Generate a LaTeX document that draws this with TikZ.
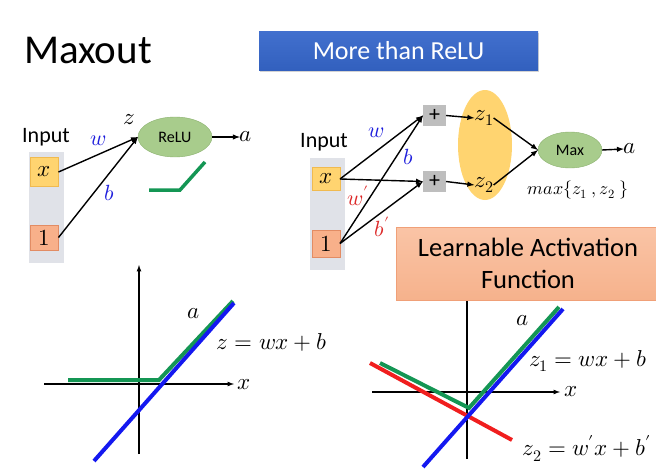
\documentclass[tikz,border=0pt]{standalone}
\usepackage{fontspec}
\usepackage{unicode-math}
\setmainfont{Carlito}
\setmathfont{Latin Modern Math}
\usetikzlibrary{arrows,positioning,shapes.geometric,shadows}

\definecolor{boxblue}{RGB}{66,112,206}
\definecolor{boxblueb}{RGB}{50,96,190}
\definecolor{salmontop}{RGB}{250,196,166}
\definecolor{salmonbot}{RGB}{246,178,140}
\definecolor{salmonline}{RGB}{240,160,120}
\definecolor{leafgreen}{RGB}{168,204,140}
\definecolor{leafline}{RGB}{140,178,112}
\definecolor{corn}{RGB}{255,212,112}
\definecolor{cornline}{RGB}{240,186,80}
\definecolor{peach}{RGB}{248,176,138}
\definecolor{peachline}{RGB}{226,140,100}
\definecolor{colgray}{RGB}{224,226,232}
\definecolor{plusgray}{RGB}{190,190,190}
\definecolor{linegreen}{RGB}{20,150,84}
\definecolor{lineblue}{RGB}{20,24,240}
\definecolor{linered}{RGB}{240,30,30}
\definecolor{wblue}{RGB}{30,30,220}
\definecolor{wred}{RGB}{220,40,40}

\begin{document}
\begin{tikzpicture}
		[x=1pt,y=-1pt,>=latex,
		every node/.style={inner sep=0pt,outer sep=0pt},
		txt/.style={font=\fontsize{22}{26}\selectfont},
		mth/.style={font=\fontsize{23}{27}\selectfont},
		col/.style={fill=colgray,minimum width=35pt},
		xbox/.style={draw=cornline,fill=corn,minimum width=28pt,mth},
		onebox/.style={draw=peachline,fill=peach,minimum width=28pt,mth},
		unit/.style={ellipse,draw=leafline,fill=leafgreen,font=\fontsize{16}{18}\selectfont},
		plusbox/.style={fill=plusgray,minimum width=23pt,minimum height=21pt,font=\fontsize{22}{22}\selectfont},
		wire/.style={->,line width=1.4pt},
		axis/.style={->,line width=1.2pt},
		curve/.style={line width=4pt}]
		\useasboundingbox (0,0) rectangle (656,471);
		
		\node[font=\fontsize{41}{46}\selectfont,anchor=base west] (title) at (24,63) {Maxout};
		\node[rectangle,minimum width=279pt,minimum height=39pt,top color=boxblue,bottom color=boxblueb,
		text=white,font=\fontsize{26}{30}\selectfont,
		drop shadow={opacity=0.35,shadow xshift=1pt,shadow yshift=-1.5pt}] (more) at (398.5,50.5) {More than ReLU};
		
		% left: relu neuron
		\node[txt] (in1) at (46,137) {Input};
		\node[col,minimum height=111pt] (col1) at (46,207.5) {};
		\node[xbox,minimum height=29pt] (x1) at (44.5,172) {$x$};
		\node[onebox,minimum height=25pt] (one1) at (44.5,237.5) {$1$};
		\node[unit,minimum width=74pt,minimum height=40pt] (relu) at (175,137) {ReLU};
		\node[mth] (a1) at (246,137) {$a$};
		\node[mth] (z1l) at (129,120) {$z$};
		
		\draw[wire] (x1.east) to node[pos=0.5,above=9pt,txt,text=wblue] {$w$} (relu.west);
		\draw[wire] (one1.east) to node[pos=0.55,below right=3pt and 2pt,txt,text=wblue] {$b$} (relu.west);
		\draw[wire] (relu.east) -- (a1.west);
		
		\draw[line width=3.5pt,linegreen] (149,190) -- (180,190) -- (205,162);
		
		% right: maxout neuron
		\node[txt] (in2) at (324,142) {Input};
		\node[col,minimum height=112pt] (col2) at (327,214) {};
		\node[xbox,minimum height=23pt] (x2) at (326,179) {$x$};
		\node[onebox,minimum height=27pt] (one2) at (326,243.5) {$1$};
		\node[plusbox] (p1) at (434.5,115.5) {+};
		\node[plusbox] (p2) at (434.5,181.5) {+};
		\node[ellipse,fill=corn,minimum width=54pt,minimum height=110pt] (grp) at (485,145) {};
		\node[mth] (z1) at (484,118) {$z_1$};
		\node[mth] (z2) at (484,185) {$z_2$};
		\node[unit,minimum width=64pt,minimum height=36pt] (max) at (570,150) {Max};
		\node[mth] (a2) at (630,149) {$a$};
		\node[font=\fontsize{18}{20}\selectfont] (maxeq) at (578,190) {$max\{z_1\ ,z_2\ \}$};
		
		\draw[wire] (x2.east) -- (p1.west);
		\draw[wire] (x2.east) -- (p2.west);
		\draw[wire] (one2.east) -- (p1.west);
		\draw[wire] (one2.east) -- (p2.west);
		\node[txt,text=wblue] (wl) at (376,133) {$w$};
		\node[txt,text=wblue] (bl) at (408,157) {$b$};
		\node[txt,text=wred] (wpl) at (358,196) {$w'$};
		\node[txt,text=wred] (bpl) at (382,227) {$b'$};
		\draw[wire] (p1.east) -- (z1.west);
		\draw[wire] (p2.east) -- (z2.west);
		\draw[wire] (z1.east) -- (max.west);
		\draw[wire] (z2.east) -- (max.west);
		\draw[wire] (max.east) -- (a2.west);
		
		% left plot
		\draw[axis] (139,454) -- (139,265);
		\draw[axis] (44,384) -- (234,384);
		\node[mth] (xl) at (244,385) {$x$};
		\draw[curve,linegreen] (68,380) -- (159,380) -- (233,301);
		\draw[curve,lineblue] (94,461) -- (234,303);
		\node[mth] (al) at (194,314) {$a$};
		\node[mth] (zl) at (272,342) {$z=wx+b$};
		
		% right plot
		\draw[axis] (467,459) -- (467,290);
		\draw[axis] (372,392) -- (560,392);
		\node[mth] (xr) at (571,392) {$x$};
		\draw[curve,linered] (370,363) -- (512,440);
		\draw[curve,linegreen] (380,363) -- (469,408) -- (559,307);
		\draw[curve,lineblue] (423,467) -- (563,309);
		\node[mth] (ar) at (523,321) {$a$};
		\node[mth] (z1r) at (588,361) {$z_1=wx+b$};
		\node[mth] (z2r) at (587,448) {$z_2=w'x+b'$};
		
		\node[rectangle,draw=salmonline,top color=salmontop,bottom color=salmonbot,
		minimum width=264pt,minimum height=73pt,align=center,
		font=\fontsize{26.5}{32}\selectfont] (learn) at (528,263.5) {Learnable Activation\\Function};
		\end{tikzpicture}
\end{document}
